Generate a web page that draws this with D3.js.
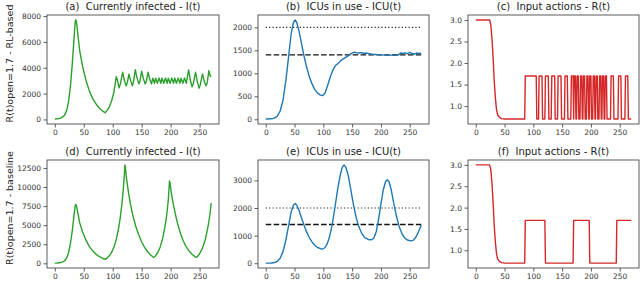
<!DOCTYPE html>
<html>
<head>
<meta charset="utf-8">
<script src="https://cdn.jsdelivr.net/npm/d3@7"></script>
<style>
body { margin: 0; background: #fff; }
svg { display: block; font-family: "DejaVu Sans", sans-serif; }
.title { white-space: pre; }
</style>
</head>
<body>
<div id="chart"></div>
<script>
// ---- data (day -> value) ----
var xTicks = [0, 50, 100, 150, 200, 250];
var dayRange = [0, 270];

// currently infected I(t)
var dayInfRL = [0,5,10,15,18,21,24,27,30,32,34,35,36,37,38,40,43,48,54,60,66,72,78,84,87,
  90,94,98,102,106,108,111,113,117,120,123,125,128,131,134,136,139,142,145,147,150,153,156,158,161,164,167,
  169,172,174,177,180,183,185,188,191,194,196,199,202,205,207,210,213,216,218,221,224,227,
  231,234,237,239,243,246,249,251,255,258,261,263,266,268,270];
var infRL = [30,50,100,230,420,780,1450,2600,4200,5500,6800,7500,7700,7650,7300,6500,5300,4100,3000,2150,1570,1140,830,600,520,
  680,980,1430,2100,3300,3050,2450,2700,3650,3050,2600,2800,3500,3000,2600,2950,3850,3200,2750,2950,3730,3150,2750,2950,3650,3100,2750,
  3200,2800,3200,2800,3200,2800,3200,2800,3200,2800,3200,2800,3200,2800,3200,2800,3200,2800,3200,2800,3200,2800,
  3830,3050,2530,2750,3650,2950,2420,2650,3520,2950,2600,2800,3780,3400,3300];

var dayInfBase = [0,5,10,15,18,21,24,27,30,32,34,35,36,37,38,40,43,48,54,60,66,72,78,84,87,
  90,94,98,102,106,110,113,116,118,120,121,122,124,127,130,135,140,145,150,155,160,165,169,171,
  174,178,182,186,190,193,196,198,199,201,204,208,212,217,222,227,232,237,242,245,
  250,255,260,265,268,270];
var infBase = [30,50,100,230,420,780,1450,2600,4200,5500,6800,7500,7700,7650,7300,6500,5300,4100,3000,2150,1570,1140,830,600,520,
  680,980,1430,2100,3100,4500,6000,7900,9500,11500,12900,12500,11000,9400,8000,6200,4800,3700,2800,2100,1550,1120,850,800,
  1000,1450,2150,3200,4700,6200,8300,10800,10500,9300,8000,6500,5200,3900,2900,2150,1600,1180,880,790,
  1250,2000,3150,5000,6500,7900];

// ICUs in use
var dayIcuRL = [0,10,15,20,25,30,35,40,44,48,51,54,58,62,66,70,75,80,85,90,95,99,
  103,107,111,115,119,122,126,130,134,138,142,146,150,154,158,162,166,170,175,180,185,190,195,200,205,210,215,220,225,230,
  234,238,242,246,250,254,258,262,266,270];
var icuRL = [5,10,25,70,180,420,850,1400,1850,2100,2160,2100,1900,1650,1400,1180,950,780,650,570,525,515,
  570,720,880,1020,1130,1180,1220,1270,1310,1340,1370,1410,1440,1460,1445,1440,1450,1435,1440,1425,1415,1410,1405,1400,1395,1395,1395,1390,1390,1395,
  1440,1430,1445,1425,1455,1430,1420,1440,1430,1435];

var dayIcuBase = [0,10,15,20,25,30,35,40,44,48,51,54,58,62,66,70,75,80,85,90,95,99,
  103,107,111,115,120,125,130,133,136,139,143,147,152,157,162,167,172,178,184,188,192,196,200,204,208,211,214,218,222,227,232,237,242,247,252,256,260,264,267,270];
var icuBase = [5,10,25,70,180,420,850,1400,1850,2100,2160,2100,1900,1650,1400,1180,950,780,650,570,525,515,
  570,720,980,1350,2000,2700,3250,3480,3560,3480,3200,2750,2150,1650,1300,1070,930,860,850,920,1150,1600,2150,2650,2950,3020,2960,2650,2200,1700,1300,1050,900,830,810,830,920,1080,1230,1380];

var icuCapacity = 1400;   // dashed line
var icuLimit = 2000;      // dotted line

// input actions R(t): shared lockdown ramp, then open/closed switching
var dayRStart = [0,24,26,28,30,32,34,36,38,41,45,50,85];
var rStart = [3.0,3.0,2.9,2.6,2.15,1.6,1.2,0.92,0.8,0.74,0.71,0.7,0.7];
var rClosed = 0.7, rOpen = 1.7;
var openRL = [86,110,121,132,143,155,166,171,176,182,187,193,198,204,209,215,220,225,235,248,260];
var closeRL = [105,115,126,137,148,159,169,173,178,184,189,195,200,206,211,217,222,227,239,252,264];
var openBase = [86,170,245];
var closeBase = [120,197,270];

var yTicksInfRL = [0,2000,4000,6000,8000];
var yTicksInfBase = [0,2500,5000,7500,10000,12500];
var yTicksIcuRL = [0,500,1000,1500,2000];
var yTicksIcuBase = [0,1000,2000,3000];
var yTicksR = [1.0,1.5,2.0,2.5,3.0];

var rowLabels = ["R(t)open=1.7 - RL-based", "R(t)open=1.7 - baseline"];

// ---- helpers ----
function zip(xs, ys) { return xs.map(function (d, i) { return [d, ys[i]]; }); }

function rSeries(on, off) {
  var pts = zip(dayRStart, rStart);
  for (var i = 0; i < on.length; i++) {
    pts.push([on[i] - 1, rClosed], [on[i], rOpen], [off[i], rOpen]);
    if (off[i] < dayRange[1]) pts.push([off[i] + 1, rClosed]);
  }
  if (pts[pts.length - 1][0] < dayRange[1]) pts.push([dayRange[1], pts[pts.length - 1][1]]);
  return pts;
}

function pad(ext) {
  var d = (ext[1] - ext[0]) * 0.05;
  return [ext[0] - d, ext[1] + d];
}

// ---- layout ----
var W = 640, H = 281;
var cols = [[47, 219], [258, 429], [468, 639]];
var rows = [[15, 124], [160, 268]];

var svg = d3.select("#chart").append("svg")
  .attr("width", W)
  .attr("height", H);
svg.append("rect").attr("width", W).attr("height", H).attr("fill", "#fff");

var panels = [
  { r: 0, c: 0, title: "(a)  Currently infected - I(t)", data: zip(dayInfRL, infRL), color: "#2ca02c", ticks: yTicksInfRL, fmt: d3.format("d") },
  { r: 0, c: 1, title: "(b)  ICUs in use - ICU(t)", data: zip(dayIcuRL, icuRL), color: "#1f77b4", ticks: yTicksIcuRL, fmt: d3.format("d"), refs: true },
  { r: 0, c: 2, title: "(c)  Input actions - R(t)", data: rSeries(openRL, closeRL), color: "#d62728", ticks: yTicksR, fmt: d3.format(".1f") },
  { r: 1, c: 0, title: "(d)  Currently infected - I(t)", data: zip(dayInfBase, infBase), color: "#2ca02c", ticks: yTicksInfBase, fmt: d3.format("d") },
  { r: 1, c: 1, title: "(e)  ICUs in use - ICU(t)", data: zip(dayIcuBase, icuBase), color: "#1f77b4", ticks: yTicksIcuBase, fmt: d3.format("d"), refs: true },
  { r: 1, c: 2, title: "(f)  Input actions - R(t)", data: rSeries(openBase, closeBase), color: "#d62728", ticks: yTicksR, fmt: d3.format(".1f") }
];

panels.forEach(function (p) {
  var x0 = cols[p.c][0], x1 = cols[p.c][1];
  var y0 = rows[p.r][0], y1 = rows[p.r][1];

  var x = d3.scaleLinear().domain(pad(dayRange)).range([x0, x1]);
  var y = d3.scaleLinear().domain(pad(d3.extent(p.data, function (d) { return d[1]; }))).range([y1, y0]);

  var g = svg.append("g");

  // axes
  var xa = g.append("g")
    .attr("transform", "translate(0," + y1 + ")")
    .call(d3.axisBottom(x).tickValues(xTicks).tickSize(3.5).tickPadding(2.5).tickFormat(d3.format("d")));
  var ya = g.append("g")
    .attr("transform", "translate(" + x0 + ",0)")
    .call(d3.axisLeft(y).tickValues(p.ticks).tickSize(3.5).tickPadding(2.5).tickFormat(p.fmt));
  [xa, ya].forEach(function (a) {
    a.select(".domain").remove();
    a.selectAll("line").attr("stroke", "#333").attr("stroke-width", 0.8);
    a.selectAll("text").attr("fill", "#333").attr("font-size", "7.5px").attr("font-family", "DejaVu Sans");
  });

  // reference lines for ICU panels
  if (p.refs) {
    g.append("line")
      .attr("x1", x(dayRange[0])).attr("x2", x(dayRange[1]))
      .attr("y1", y(icuLimit)).attr("y2", y(icuLimit))
      .attr("stroke", "#222").attr("stroke-width", 1.2)
      .attr("stroke-dasharray", "1.2,2.2");
    g.append("line")
      .attr("x1", x(dayRange[0])).attr("x2", x(dayRange[1]))
      .attr("y1", y(icuCapacity)).attr("y2", y(icuCapacity))
      .attr("stroke", "#111").attr("stroke-width", 1.4)
      .attr("stroke-dasharray", "5.5,2.4");
  }

  // series
  var line = d3.line()
    .x(function (d) { return x(d[0]); })
    .y(function (d) { return y(d[1]); });
  g.append("path")
    .datum(p.data)
    .attr("fill", "none")
    .attr("stroke", p.color)
    .attr("stroke-width", 1.4)
    .attr("stroke-linejoin", "round")
    .attr("d", line);

  // frame
  g.append("rect")
    .attr("x", x0).attr("y", y0)
    .attr("width", x1 - x0).attr("height", y1 - y0)
    .attr("fill", "none").attr("stroke", "#333").attr("stroke-width", 0.8);

  // title
  g.append("text")
    .attr("class", "title")
    .attr("x", (x0 + x1) / 2)
    .attr("y", y0 - 5)
    .attr("text-anchor", "middle")
    .attr("font-size", "10px")
    .attr("fill", "#222")
    .text(p.title);
});

// row labels
rowLabels.forEach(function (t, i) {
  svg.append("text")
    .attr("transform", "translate(13," + ((rows[i][0] + rows[i][1]) / 2 - 6) + ") rotate(-90)")
    .attr("text-anchor", "middle")
    .attr("font-size", "9.5px")
    .attr("fill", "#222")
    .text(t);
});
</script>
</body>
</html>
